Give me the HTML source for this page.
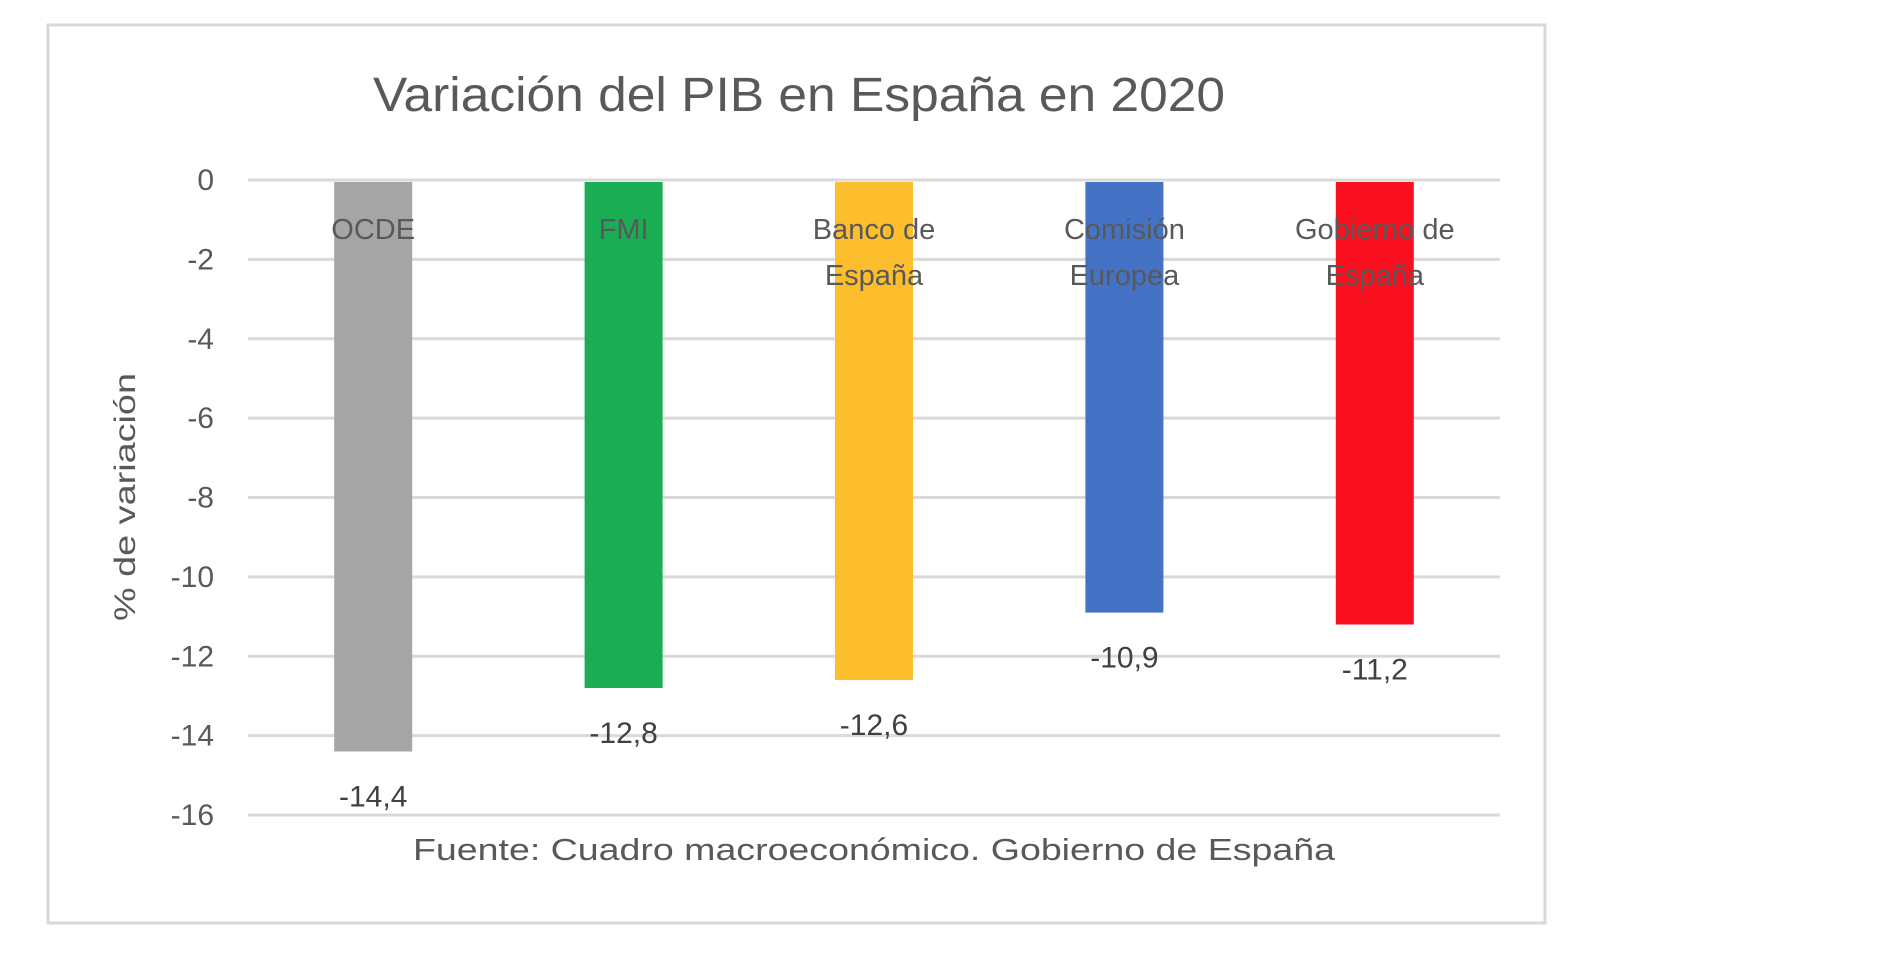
<!DOCTYPE html>
<html><head><meta charset="utf-8"><style>
html,body{margin:0;padding:0;background:#fff;}
svg{display:block;font-family:"Liberation Sans",sans-serif;}
</style></head><body>
<svg id="chart" width="1900" height="978" viewBox="0 0 1900 978" xmlns="http://www.w3.org/2000/svg">
<rect x="48" y="25" width="1497" height="898" fill="#fff" stroke="#d9d9d9" stroke-width="3"/>
<text x="799" y="111" text-anchor="middle" font-size="48" fill="#595959" textLength="852" lengthAdjust="spacingAndGlyphs">Variación del PIB en España en 2020</text>
<g id="grid"></g><g id="bars"></g><g id="labels"></g>
<text transform="translate(135,497) rotate(-90)" text-anchor="middle" font-size="30" fill="#595959" textLength="248" lengthAdjust="spacingAndGlyphs">% de variación</text>
<text x="874" y="860" text-anchor="middle" font-size="31" fill="#595959" textLength="922" lengthAdjust="spacingAndGlyphs">Fuente: Cuadro macroeconómico. Gobierno de España</text>
</svg>
<script>
const categories = [["OCDE"],["FMI"],["Banco de","España"],["Comisión","Europea"],["Gobierno de","España"]];
const values = [-14.4,-12.8,-12.6,-10.9,-11.2];
const valueLabels = ["-14,4","-12,8","-12,6","-10,9","-11,2"];
const colors = ["#a5a5a5","#1aad54","#fcbe2d","#4472c4","#fa0f1e"];
const ticks = [0,-2,-4,-6,-8,-10,-12,-14,-16];
const NS="http://www.w3.org/2000/svg";
const x0=248,x1=1500,y0=180,y1=815,vMin=-16;
const y=v=>y0+(v/vMin)*(y1-y0);
const band=(x1-x0)/categories.length;
const cx=i=>x0+band*(i+0.5);
const bw=78;
function mk(tag,attrs,parent,txt){const e=document.createElementNS(NS,tag);for(const k in attrs)e.setAttribute(k,attrs[k]);if(txt!=null)e.textContent=txt;parent.appendChild(e);return e;}
const grid=document.getElementById('grid'),bars=document.getElementById('bars'),labels=document.getElementById('labels');
ticks.forEach(t=>{
 const l=mk('line',{x1:x0,x2:x1,y1:y(t),y2:y(t),stroke:'#d9d9d9','stroke-width':3},grid);
 
 
 const tx=mk('text',{x:214,y:y(t)+10,'text-anchor':'end','font-size':30,fill:'#595959'},grid,String(t));
 
 
});
values.forEach((v,i)=>{
 const r=mk('rect',{x:cx(i)-bw/2,y:y(0)+2,width:bw,height:y(v)-y(0)-2,fill:colors[i]},bars);
 
 
 categories[i].forEach((line,j)=>{
  const t=mk('text',{x:cx(i),y:239+j*46,'text-anchor':'middle','font-size':29,fill:'#595959'},labels,line);
  
  
 });
 const vl=mk('text',{x:cx(i),y:y(v)+55,'text-anchor':'middle','font-size':30,fill:'#404040'},labels,valueLabels[i]);
 
 
});
</script>
</body></html>
